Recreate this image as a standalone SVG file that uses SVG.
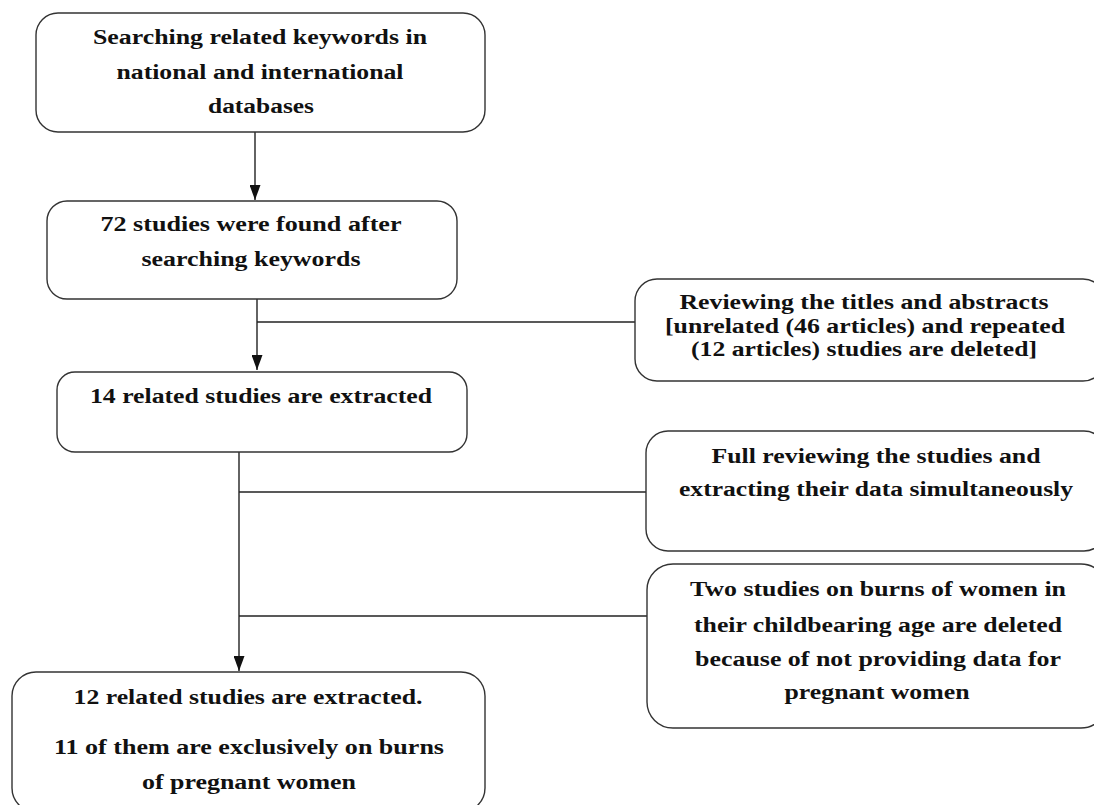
<svg xmlns="http://www.w3.org/2000/svg" width="1094" height="805" viewBox="0 0 1094 805">
<style>
.box{fill:#fff;stroke:#333;stroke-width:1.4}
.t{font-family:"Liberation Serif","Times New Roman",serif;font-weight:bold;font-size:20px;fill:#111;text-anchor:middle}
.ln{fill:none;stroke:#222;stroke-width:1.4}
</style>
<defs>
<marker id="ah" markerWidth="15" markerHeight="11" refX="15" refY="5.5" orient="auto" markerUnits="userSpaceOnUse">
<path d="M0,0 L15,5.5 L0,11 Z" fill="#111"/>
</marker>
</defs>
<rect width="1094" height="805" fill="#fff"/>
<g id="connectors">
<line class="ln" x1="255" y1="132" x2="255" y2="200" marker-end="url(#ah)"/>
<line class="ln" x1="257" y1="299" x2="257" y2="370" marker-end="url(#ah)"/>
<line class="ln" x1="257" y1="322" x2="635" y2="322"/>
<line class="ln" x1="239" y1="452" x2="239" y2="671" marker-end="url(#ah)"/>
<line class="ln" x1="239" y1="492" x2="646" y2="492"/>
<line class="ln" x1="239" y1="616" x2="647" y2="616"/>
</g>
<g id="n1">
<rect class="box" x="36" y="13" width="449" height="119" rx="22"/>
<text class="t" x="260" y="44" textLength="334" lengthAdjust="spacingAndGlyphs">Searching related keywords in</text>
<text class="t" x="260" y="79" textLength="287" lengthAdjust="spacingAndGlyphs">national and international</text>
<text class="t" x="261" y="113" textLength="106" lengthAdjust="spacingAndGlyphs">databases</text>
</g>
<g id="n2">
<rect class="box" x="47" y="201" width="410" height="98" rx="20"/>
<text class="t" x="251" y="231" textLength="301" lengthAdjust="spacingAndGlyphs">72 studies were found after</text>
<text class="t" x="251" y="266" textLength="219" lengthAdjust="spacingAndGlyphs">searching keywords</text>
</g>
<g id="n3">
<rect class="box" x="57" y="372" width="410" height="80" rx="18"/>
<text class="t" x="261" y="403" textLength="342" lengthAdjust="spacingAndGlyphs">14 related studies are extracted</text>
</g>
<g id="n4">
<rect class="box" x="12" y="672" width="473" height="140" rx="24"/>
<text class="t" x="248" y="704" textLength="349" lengthAdjust="spacingAndGlyphs">12 related studies are extracted.</text>
<text class="t" x="249" y="754" textLength="390" lengthAdjust="spacingAndGlyphs">11 of them are exclusively on burns</text>
<text class="t" x="249" y="789" textLength="214" lengthAdjust="spacingAndGlyphs">of pregnant women</text>
</g>
<g id="r1">
<rect class="box" x="635" y="279" width="470" height="102" rx="22"/>
<text class="t" x="864" y="309" textLength="369" lengthAdjust="spacingAndGlyphs">Reviewing the titles and abstracts</text>
<text class="t" x="865" y="333" textLength="400" lengthAdjust="spacingAndGlyphs">[unrelated (46 articles) and repeated</text>
<text class="t" x="864" y="356" textLength="346" lengthAdjust="spacingAndGlyphs">(12 articles) studies are deleted]</text>
</g>
<g id="r2">
<rect class="box" x="646" y="431" width="460" height="120" rx="22"/>
<text class="t" x="876" y="463" textLength="329" lengthAdjust="spacingAndGlyphs">Full reviewing the studies and</text>
<text class="t" x="876" y="496" textLength="394" lengthAdjust="spacingAndGlyphs">extracting their data simultaneously</text>
</g>
<g id="r3">
<rect class="box" x="647" y="564" width="460" height="164" rx="26"/>
<text class="t" x="878" y="596" textLength="376" lengthAdjust="spacingAndGlyphs">Two studies on burns of women in</text>
<text class="t" x="878" y="632" textLength="368" lengthAdjust="spacingAndGlyphs">their childbearing age are deleted</text>
<text class="t" x="878" y="666" textLength="366" lengthAdjust="spacingAndGlyphs">because of not providing data for</text>
<text class="t" x="877" y="699" textLength="185" lengthAdjust="spacingAndGlyphs">pregnant women</text>
</g>
</svg>
